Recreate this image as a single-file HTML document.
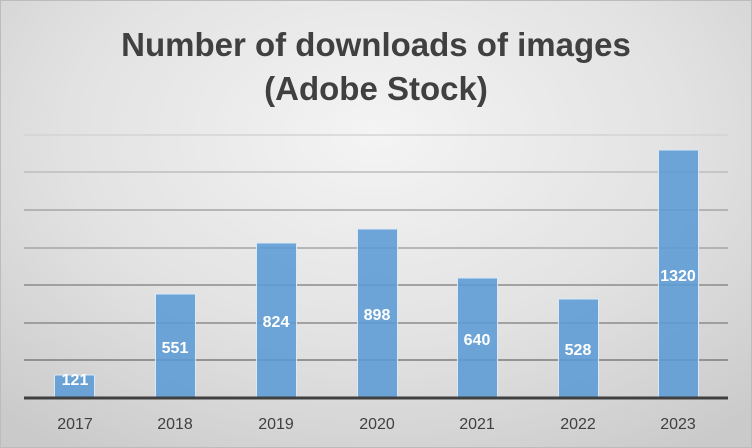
<!DOCTYPE html>
<html><head><meta charset="utf-8"><style>
body{margin:0;width:752px;height:448px;overflow:hidden}
.c{position:absolute;left:0;top:0;width:750px;height:446px;border:1px solid #bcbcbc;background:radial-gradient(ellipse 75% 85% at 50% 30%,#f4f4f4 0%,#e2e2e2 55%,#cacaca 100%)}
</style></head><body><div class="c"></div>
<svg width="752" height="448" style="position:absolute;left:0;top:0" font-family="Liberation Sans, sans-serif">
<text x="376" y="56" text-anchor="middle" font-size="33" font-weight="bold" fill="#404040">Number of downloads of images</text>
<text x="376" y="100" text-anchor="middle" font-size="33" font-weight="bold" fill="#404040">(Adobe Stock)</text>
<g stroke="#a6a6a6" stroke-width="1.5">
<line x1="24" x2="728" y1="135" y2="135" stroke="#d4d4d4"/>
<line x1="24" x2="728" y1="172" y2="172" stroke="#bdbdbd"/>
<line x1="24" x2="728" y1="210" y2="210"/>
<line x1="24" x2="728" y1="248" y2="248"/>
<line x1="24" x2="728" y1="285" y2="285" stroke="#8c8c8c"/>
<line x1="24" x2="728" y1="323" y2="323" stroke="#8c8c8c"/>
<line x1="24" x2="728" y1="360" y2="360" stroke="#7c7c7c"/>
</g>
<g fill="#5b9bd5" fill-opacity="0.88" stroke="#dbe8f5" stroke-width="1">
<rect x="54.5" y="375" width="40" height="23"/>
<rect x="155.5" y="294" width="40" height="104"/>
<rect x="256.5" y="243" width="40" height="155"/>
<rect x="357.5" y="229" width="40" height="169"/>
<rect x="457.5" y="278" width="40" height="120"/>
<rect x="558.5" y="299" width="40" height="99"/>
<rect x="658.5" y="150" width="40" height="248"/>
</g>
<line x1="24" x2="728" y1="398" y2="398" stroke="#404040" stroke-width="3"/>
<g fill="#fff" font-size="16" font-weight="bold" text-anchor="middle">
<text x="75" y="385">121</text>
<text x="175" y="353">551</text>
<text x="276" y="327">824</text>
<text x="377" y="320">898</text>
<text x="477" y="345">640</text>
<text x="578" y="355">528</text>
<text x="678" y="281">1320</text>
</g>
<g fill="#404040" font-size="16" text-anchor="middle">
<text x="75" y="429">2017</text><text x="175" y="429">2018</text><text x="276" y="429">2019</text><text x="377" y="429">2020</text><text x="477" y="429">2021</text><text x="578" y="429">2022</text><text x="678" y="429">2023</text>
</g>
</svg></body></html>
